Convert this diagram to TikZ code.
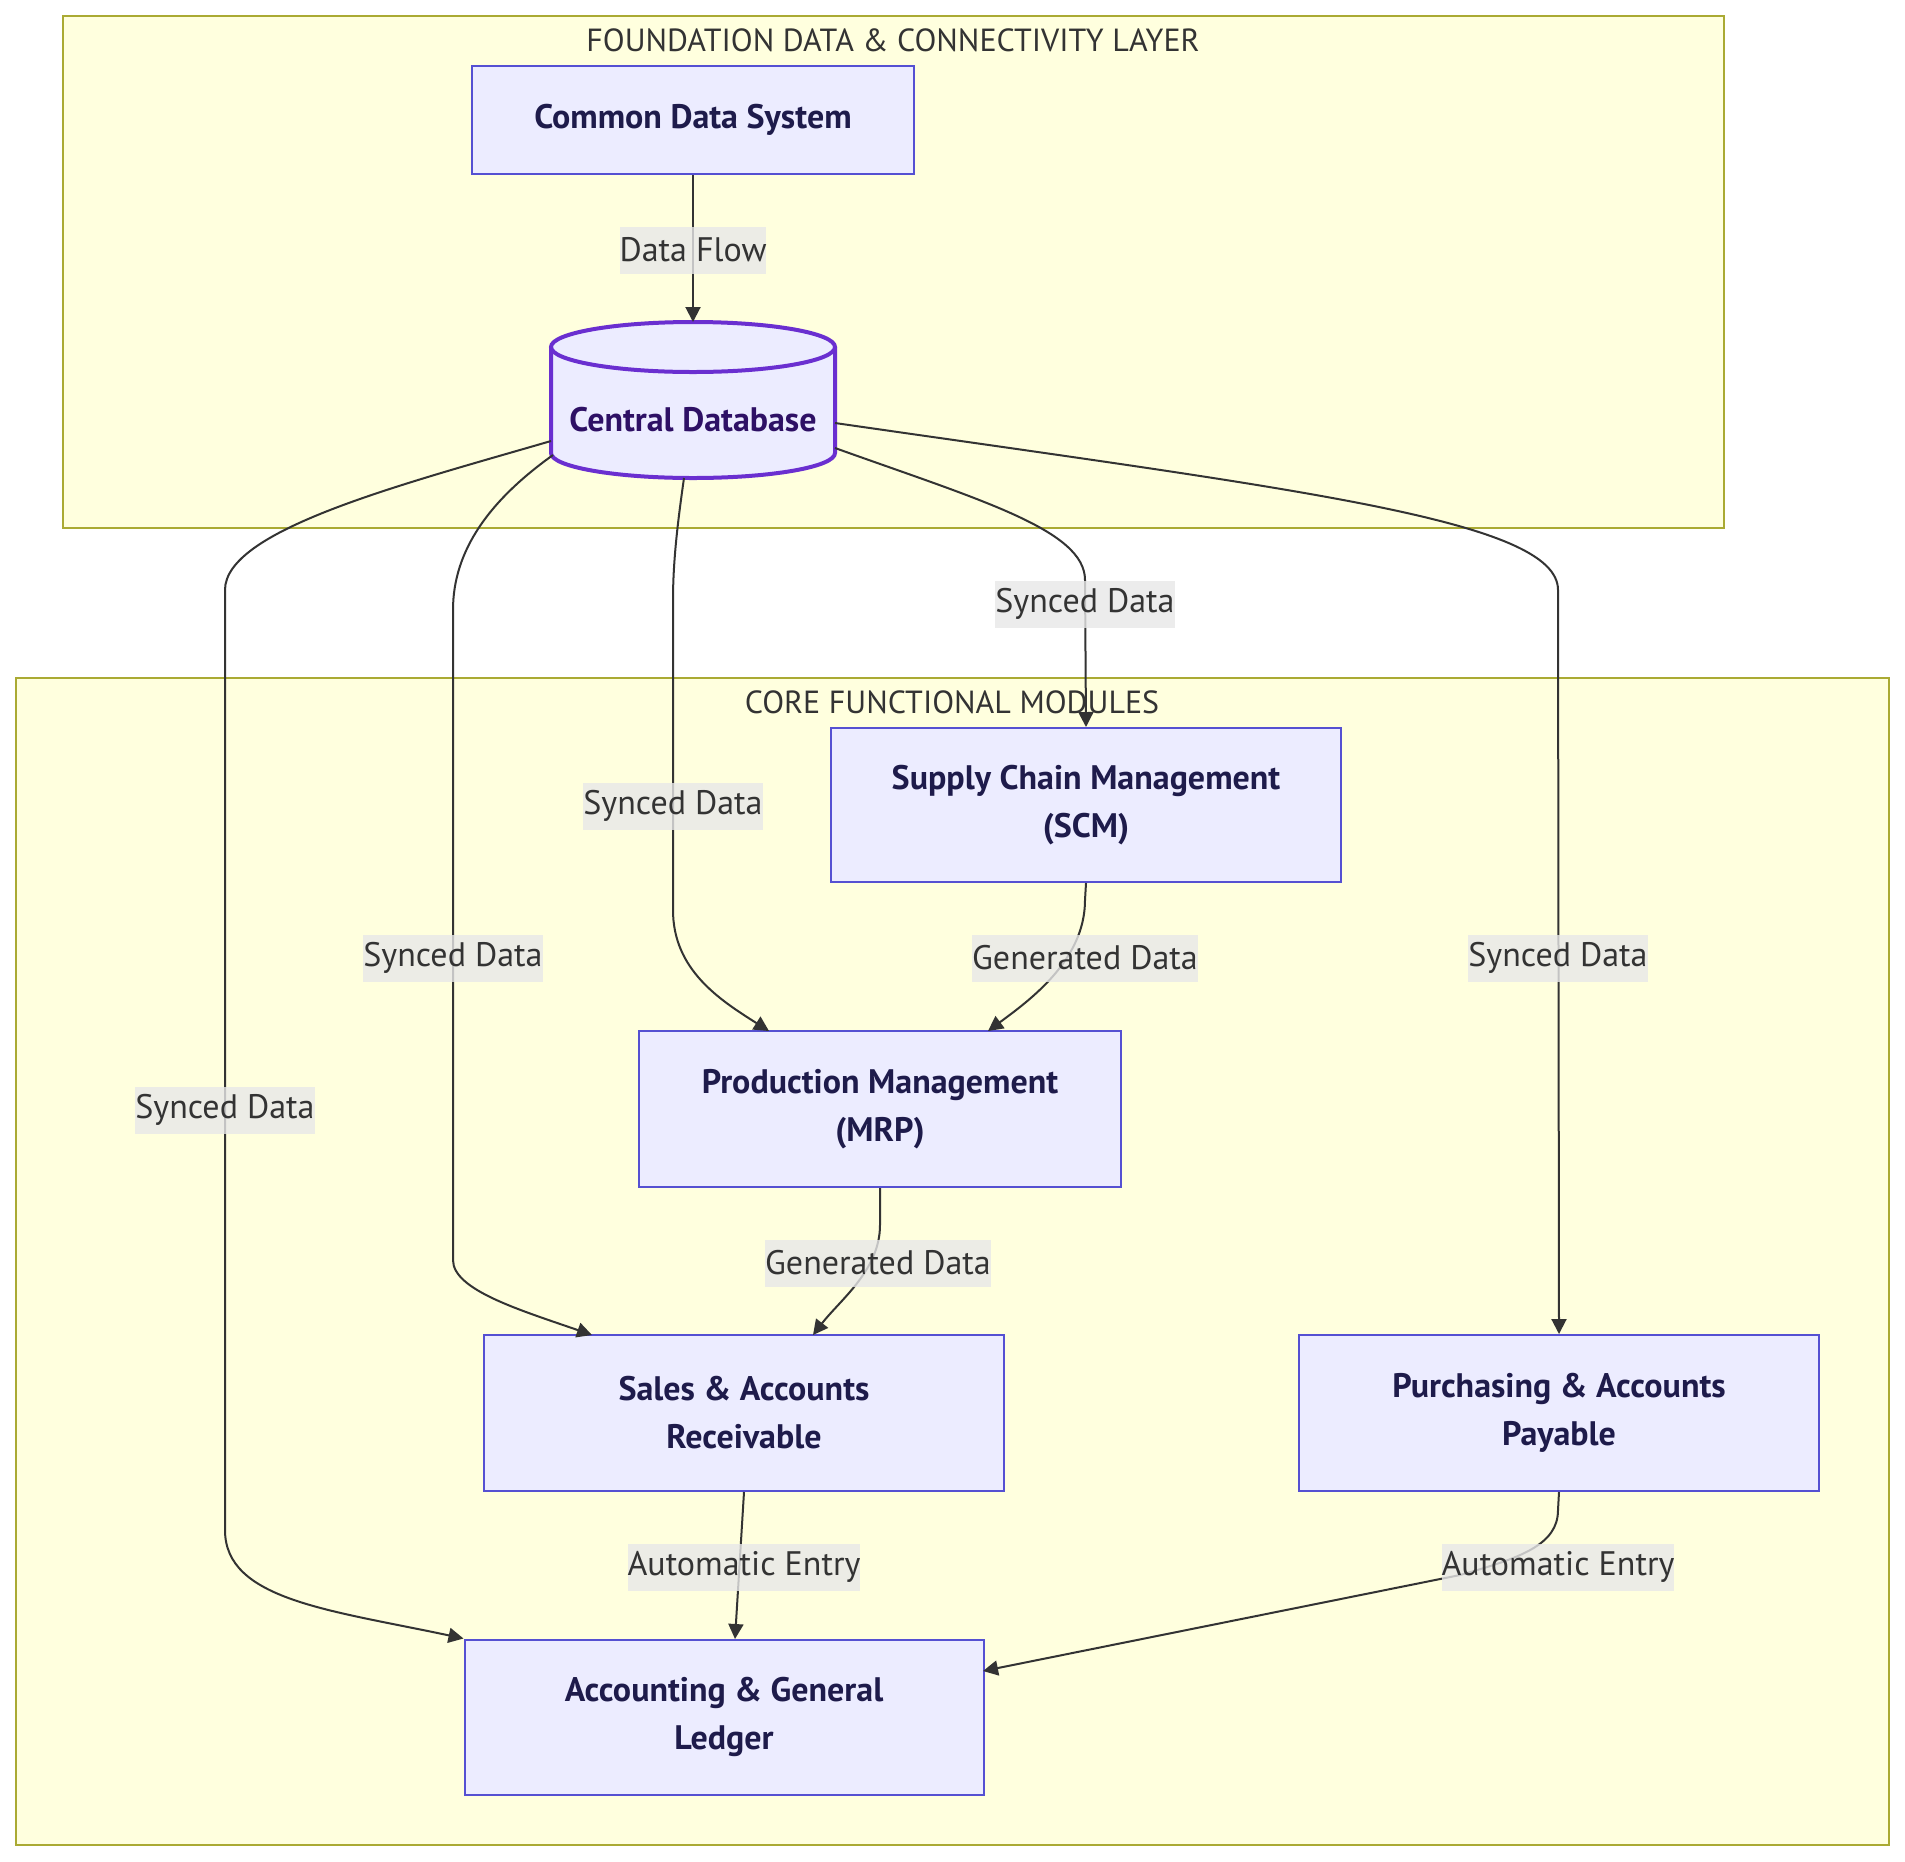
\documentclass[tikz,border=0pt]{standalone}
\usepackage{fontspec}
\setmainfont{PT Sans}
\usetikzlibrary{arrows.meta}
\definecolor{clfill}{HTML}{FFFFDE}
\definecolor{clline}{HTML}{AAAA33}
\definecolor{nfill}{HTML}{ECECFF}
\definecolor{nline}{HTML}{5550D2}
\definecolor{dbline}{HTML}{6A2FD0}
\definecolor{ntext}{HTML}{1E1B4B}
\definecolor{dbtext}{HTML}{2E1065}
\definecolor{lblfill}{HTML}{E8E8E8}
\definecolor{edge}{HTML}{333333}
\tikzset{
  cluster/.style={draw=clline, fill=clfill, line width=2pt},
  ctitle/.style={text=edge, font=\fontsize{32}{38}\selectfont},
  box/.style={draw=nline, fill=nfill, line width=2pt, text=ntext, align=center,
    font=\fontsize{34}{48}\selectfont\bfseries, inner sep=0pt},
  lbl/.style={fill=lblfill, fill opacity=0.8, text opacity=1, text=edge,
    font=\fontsize{34}{40}\selectfont, inner xsep=0pt, inner ysep=0pt, minimum height=47},
  conn/.style={draw=edge, line width=2pt, -{Triangle[length=15pt,width=15pt]}},
}
\begin{document}
\begin{tikzpicture}[x=1pt,y=-1pt]
\useasboundingbox (0,0) rectangle (1905,1861);
\fill[white] (0,0) rectangle (1905,1861);
% clusters
\draw[cluster] (63,16) rectangle (1724,528);
\node[ctitle] (t1) at (893,40) {FOUNDATION DATA \& CONNECTIVITY LAYER};
\draw[cluster] (16,678) rectangle (1889,1845);
\node[ctitle] (t2) at (952,702) {CORE FUNCTIONAL MODULES};
% nodes
\node[box, minimum width=442, minimum height=108] (cds) at (693,120) {Common Data System};
% cylinder
\fill[nfill] (551,347) -- (551,453) arc[start angle=180,end angle=0,x radius=142,y radius=25] -- (835,347) -- cycle;
\fill[nfill] (693,347) ellipse[x radius=142,y radius=25];
\draw[dbline, line width=4pt] (551,347) -- (551,453) arc[start angle=180,end angle=0,x radius=142,y radius=25] -- (835,347);
\draw[dbline, line width=4pt] (693,347) ellipse[x radius=142,y radius=25];
\node[text=dbtext, font=\fontsize{34}{40}\selectfont\bfseries, inner sep=0pt, minimum width=284, minimum height=100] (db) at (693,420) {Central Database};
\coordinate (dbtop) at (693,322);
\coordinate (dbA) at (551,441);
\coordinate (dbB) at (553,455);
\coordinate (dbC) at (684,478);
\coordinate (dbD) at (835,448);
\coordinate (dbE) at (835,423);

\node[box, minimum width=510, minimum height=154] (scm) at (1086,805) {Supply Chain Management\\(SCM)};
\node[box, minimum width=482, minimum height=156] (mrp) at (880,1109) {Production Management\\(MRP)};
\node[box, minimum width=520, minimum height=156] (sales) at (744,1413) {Sales \& Accounts\\Receivable};
\node[box, minimum width=520, minimum height=156] (purch) at (1559,1413) {Purchasing \& Accounts\\Payable};
\node[box, minimum width=519, minimum height=155] (acc) at (724,1717) {Accounting \& General\\Ledger};

% edges
\draw[conn] (cds.south) -- (dbtop);
\draw[conn] (dbA) .. controls (400,485) and (225,530) .. (225,590) -- (225,1530) .. controls (225,1600) and (330,1610) .. (acc.north west);
\draw[conn] (dbB) .. controls (490,500) and (453,550) .. (453,610) -- (453,1260) .. controls (453,1290) and (520,1310) .. (592,1335);
\draw[conn] (dbC) .. controls (678,520) and (673,560) .. (673,600) -- (673,910) .. controls (673,970) and (720,1000) .. (769,1031);
\draw[conn] (dbD) .. controls (980,500) and (1085,530) .. (1085,580) -- (scm.north);
\draw[conn] (dbE) .. controls (1300,490) and (1558,520) .. (1558,590) -- (purch.north);
\draw[conn] (scm.south) -- (1085,900) .. controls (1085,960) and (1030,1000) .. (988,1031);
\draw[conn] (mrp.south) -- (880,1225) .. controls (880,1270) and (840,1300) .. (813,1335);
\draw[conn] (sales.south) -- (735,1639);
\draw[conn] (purch.south) -- (1558,1510) .. controls (1558,1545) and (1520,1558) .. (1460,1575) -- (983,1671);

% labels
\node[lbl] (l0) at (693,250) {Data Flow};
\node[lbl] (l1) at (1085,604) {Synced Data};
\node[lbl] (l2) at (673,806) {Synced Data};
\node[lbl] (l3) at (453,958) {Synced Data};
\node[lbl] (l4) at (225,1110) {Synced Data};
\node[lbl] (l5) at (1558,958) {Synced Data};
\node[lbl] (l6) at (1085,958) {Generated Data};
\node[lbl] (l7) at (878,1263) {Generated Data};
\node[lbl] (l8) at (744,1567) {Automatic Entry};
\node[lbl] (l9) at (1558,1567) {Automatic Entry};
\end{tikzpicture}
\end{document}
